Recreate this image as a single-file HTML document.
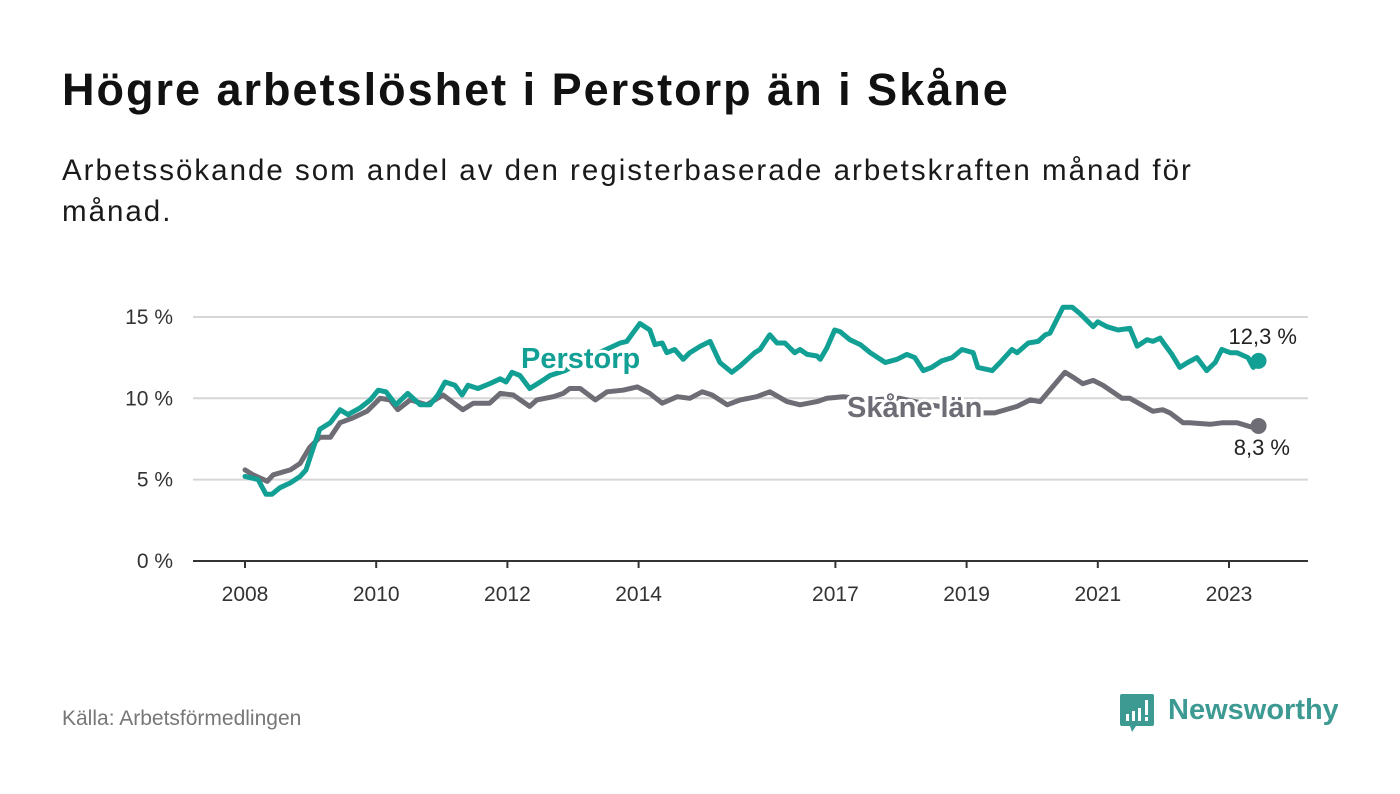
<!DOCTYPE html>
<html><head><meta charset="utf-8">
<style>
html,body{margin:0;padding:0;background:#fff;}
body{width:1400px;height:794px;position:relative;overflow:hidden;font-family:"Liberation Sans","DejaVu Sans",sans-serif;}
#title{position:absolute;left:62px;top:64px;font-size:45px;letter-spacing:2px;font-weight:bold;color:#111;margin:0;}
#subtitle{position:absolute;left:62px;top:150px;width:1200px;font-size:29.5px;letter-spacing:2px;line-height:41px;color:#1a1a1a;}
#source{position:absolute;left:62px;top:707px;font-size:21px;color:#777;}
#logo{position:absolute;left:1118px;top:692px;}
</style></head><body>
<h1 id="title">Högre arbetslöshet i Perstorp än i Skåne</h1>
<div id="subtitle">Arbetssökande som andel av den registerbaserade arbetskraften månad för månad.</div>
<svg id="chart" width="1400" height="794" style="position:absolute;left:0;top:0"></svg>
<div id="source">Källa: Arbetsförmedlingen</div>
<svg id="logo" width="220" height="46">
<path d="M2 2 h32 a2 2 0 0 1 2 2 v28 a2 2 0 0 1 -2 2 h-16 l-4 6 l-2 -6 h-8 a2 2 0 0 1 -2 -2 v-28 a2 2 0 0 1 2 -2z" fill="#3d9a93"/>
<rect x="8" y="22" width="3" height="7" fill="#fff"/><rect x="14" y="19" width="3" height="10" fill="#fff"/><rect x="20" y="16" width="3" height="13" fill="#fff"/><rect x="27" y="8" width="3" height="15" fill="#fff"/><rect x="27" y="25" width="3" height="4" fill="#fff"/>
<text x="50" y="27" font-size="29" font-weight="bold" fill="#3d9a93" font-family="Liberation Sans, sans-serif">Newsworthy</text>
</svg>
<script>
const yTicks=[0,5,10,15];
const yTickLabels=["0 %","5 %","10 %","15 %"];
const xTicks=[2008,2010,2012,2014,2017,2019,2021,2023];
const perstorpT=[2008.00,2008.20,2008.32,2008.41,2008.53,2008.69,2008.84,2008.93,2009.02,2009.14,2009.30,2009.45,2009.57,2009.75,2009.91,2010.03,2010.15,2010.30,2010.48,2010.67,2010.82,2010.94,2011.05,2011.20,2011.31,2011.40,2011.55,2011.73,2011.89,2011.98,2012.07,2012.19,2012.34,2012.54,2012.65,2012.88,2013.11,2013.34,2013.56,2013.72,2013.82,2014.02,2014.17,2014.25,2014.36,2014.43,2014.55,2014.68,2014.78,2014.94,2015.09,2015.24,2015.42,2015.55,2015.77,2015.85,2016.00,2016.11,2016.23,2016.38,2016.46,2016.57,2016.72,2016.77,2016.87,2016.99,2017.07,2017.22,2017.38,2017.53,2017.76,2017.94,2018.09,2018.21,2018.34,2018.47,2018.62,2018.78,2018.93,2019.10,2019.17,2019.39,2019.51,2019.69,2019.77,2019.94,2020.09,2020.20,2020.27,2020.47,2020.61,2020.73,2020.93,2021.00,2021.14,2021.31,2021.49,2021.60,2021.75,2021.84,2021.95,2022.02,2022.13,2022.25,2022.37,2022.51,2022.66,2022.79,2022.89,2023.02,2023.12,2023.29,2023.37,2023.45];
const perstorpV=[5.2,5.0,4.1,4.1,4.5,4.8,5.2,5.6,6.7,8.1,8.5,9.3,9.0,9.4,9.9,10.5,10.4,9.6,10.3,9.6,9.6,10.2,11.0,10.8,10.2,10.8,10.6,10.9,11.2,11.0,11.6,11.4,10.6,11.1,11.4,11.7,12.2,12.7,13.1,13.4,13.5,14.6,14.2,13.3,13.4,12.8,13.0,12.4,12.8,13.2,13.5,12.2,11.6,12.0,12.8,13.0,13.9,13.4,13.4,12.8,13.0,12.7,12.6,12.4,13.1,14.2,14.1,13.6,13.3,12.8,12.2,12.4,12.7,12.5,11.7,11.9,12.3,12.5,13.0,12.8,11.9,11.7,12.2,13.0,12.8,13.4,13.5,13.9,14.0,15.6,15.6,15.2,14.4,14.7,14.4,14.2,14.3,13.2,13.6,13.5,13.7,13.3,12.7,11.9,12.2,12.5,11.7,12.2,13.0,12.8,12.8,12.5,11.9,12.3];
const skaneT=[2008.00,2008.12,2008.34,2008.43,2008.69,2008.84,2008.99,2009.14,2009.30,2009.45,2009.65,2009.86,2010.06,2010.21,2010.33,2010.52,2010.77,2011.02,2011.32,2011.48,2011.73,2011.89,2012.09,2012.34,2012.45,2012.70,2012.85,2012.95,2013.11,2013.34,2013.52,2013.76,2013.98,2014.17,2014.36,2014.59,2014.78,2014.97,2015.12,2015.35,2015.55,2015.80,2016.00,2016.26,2016.46,2016.72,2016.87,2017.12,2017.53,2017.98,2018.44,2018.90,2019.20,2019.43,2019.77,2019.97,2020.12,2020.50,2020.62,2020.77,2020.93,2021.08,2021.37,2021.49,2021.84,2021.99,2022.10,2022.30,2022.40,2022.71,2022.91,2023.12,2023.37,2023.45];
const skaneV=[5.6,5.3,4.9,5.3,5.6,6.0,7.0,7.6,7.6,8.5,8.8,9.2,10.0,9.9,9.3,9.9,9.6,10.2,9.3,9.7,9.7,10.3,10.2,9.5,9.9,10.1,10.3,10.6,10.6,9.9,10.4,10.5,10.7,10.3,9.7,10.1,10.0,10.4,10.2,9.6,9.9,10.1,10.4,9.8,9.6,9.8,10.0,10.1,9.9,10.0,9.6,9.3,9.1,9.1,9.5,9.9,9.8,11.6,11.3,10.9,11.1,10.8,10.0,10.0,9.2,9.3,9.1,8.5,8.5,8.4,8.5,8.5,8.2,8.3];

const NS="http://www.w3.org/2000/svg";
const svg=document.getElementById('chart');
const X0=193,X1=1308;
function xs(t){return 245+(t-2008)*65.6;}
function ys(v){return 561-v*16.27;}
function mk(tag,attrs,parent){const e=document.createElementNS(NS,tag);for(const k in attrs)e.setAttribute(k,attrs[k]);(parent||svg).appendChild(e);return e;}
const fam="Liberation Sans, DejaVu Sans, sans-serif";
yTicks.forEach((v,i)=>{
  if(v>0){const g=mk('line',{x1:X0,x2:X1,y1:ys(v),y2:ys(v),stroke:'#d6d6d6','stroke-width':2});
  
  }
  const t=mk('text',{x:173,y:ys(v)+7,'text-anchor':'end','font-size':21,fill:'#333','font-family':fam});
  t.textContent=yTickLabels[i];
  
  
});
const ax=mk('line',{x1:X0,x2:X1,y1:561,y2:561,stroke:'#333','stroke-width':2});


xTicks.forEach(y=>{
  const tk=mk('line',{x1:xs(y),x2:xs(y),y1:561,y2:568,stroke:'#333','stroke-width':2});
  
  
  const t=mk('text',{x:xs(y),y:601,'text-anchor':'middle','font-size':21,fill:'#333','font-family':fam});
  t.textContent=y;
  
  
});
function line(T,V,color,name){
  const d=T.map((t,i)=>(i?'L':'M')+xs(t).toFixed(1)+' '+ys(V[i]).toFixed(1)).join(' ');
  const p=mk('path',{d:d,fill:'none',stroke:color,'stroke-width':5,'stroke-linejoin':'round','stroke-linecap':'round'});
  
  
  const n=T.length-1;
  const c=mk('circle',{cx:xs(T[n]),cy:ys(V[n]),r:8,fill:color});
  
  
}
line(skaneT,skaneV,'#6e6c74','skane');
line(perstorpT,perstorpV,'#12a095','perstorp');
function label(x,y,txt,color,size,weight,name,anchor){
  const t=mk('text',{x:x,y:y,'font-size':size,'font-weight':weight,fill:color,stroke:'#fff','stroke-width':6,'paint-order':'stroke','stroke-linejoin':'round','font-family':fam,'text-anchor':anchor||'start'});
  t.textContent=txt;
  
  
}
label(521,368,'Perstorp','#12a095',29,'bold','perstorp-label');
label(847,417,'Skåne län','#6e6c74',29,'bold','skane-label');
label(1297,344,'12,3 %','#222',22,'normal','perstorp-end-value','end');
label(1290,455,'8,3 %','#222',22,'normal','skane-end-value','end');
</script>
</body></html>
